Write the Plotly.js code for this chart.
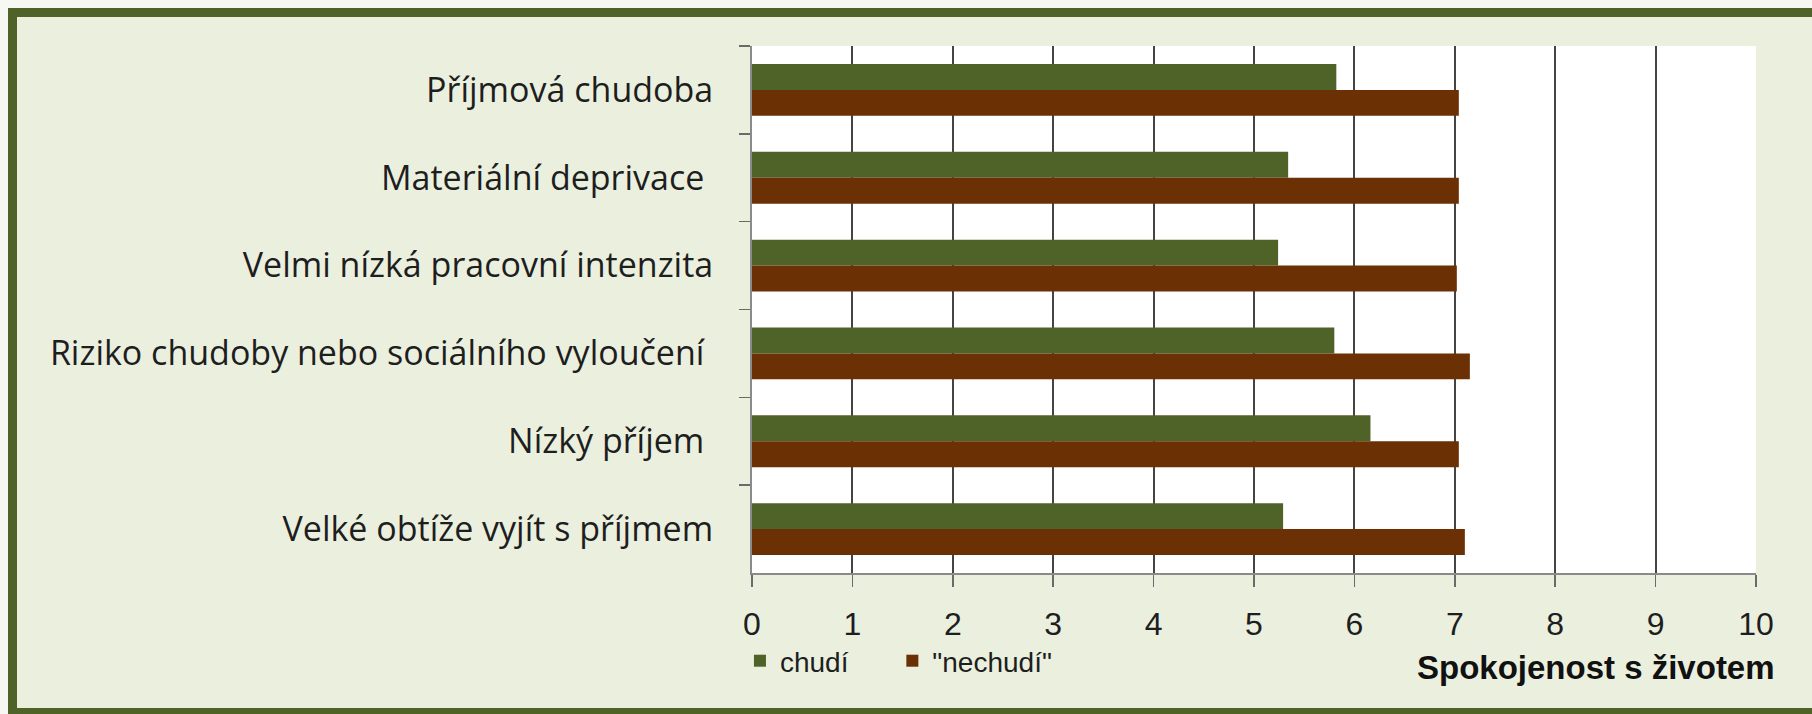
<!DOCTYPE html>
<html>
<head>
<meta charset="utf-8">
<script src="https://cdn.plot.ly/plotly-3.0.1.min.js"></script>
<style>
  html, body { margin: 0; padding: 0; background: #f7f8f3; overflow: hidden; }
  #frame {
    position: absolute; left: 8px; top: 8px; width: 1830px; height: 709px;
    box-sizing: border-box; border: 9px solid #4f6228; background: #ebf0de;
  }
  #chart { position: absolute; left: 0; top: 0; width: 1812px; height: 714px; }
</style>
</head>
<body>
<div id="frame"></div>
<div id="chart"></div>
<script>
// kategorie (shora dolů)
const categories = [
    'Příjmová chudoba',
    'Materiální deprivace ',
    'Velmi nízká pracovní intenzita',
    'Riziko chudoby nebo sociálního vyloučení ',
    'Nízký příjem ',
    'Velké obtíže vyjít s příjmem'
];
// spokojenost s životem
const chudi = [5.82, 5.34, 5.24, 5.80, 6.16, 5.29];
const nechudi = [7.04, 7.04, 7.02, 7.15, 7.04, 7.10];
const xTicks = [0, 1, 2, 3, 4, 5, 6, 7, 8, 9, 10];

const labelFont = '"Open Sans", "Liberation Sans", sans-serif';
const numFont = '"Liberation Sans", sans-serif';

// nbsp za názvem jen odsouvá druhou položku legendy
const traceChudi = {
    type: 'bar',
    orientation: 'h',
    name: 'chudí\u00a0\u00a0\u00a0\u00a0\u00a0',
    y: categories,
    x: chudi,
    marker: { color: '#4f6228' },
    hoverinfo: 'x'
};

const traceNechudi = {
    type: 'bar',
    orientation: 'h',
    name: '"nechudí"',
    y: categories,
    x: nechudi,
    marker: { color: '#6b3004' },
    hoverinfo: 'x'
};

const layout = {
    width: 1812,
    height: 714,
    margin: { l: 752, r: 56, t: 46, b: 141 },
    paper_bgcolor: 'rgba(0,0,0,0)',
    plot_bgcolor: '#ffffff',
    barmode: 'group',
    bargap: 0.41,
    bargroupgap: 0,
    font: { family: labelFont, color: '#1e1e1e', size: 26 },
    xaxis: {
        range: [0, 10],
        tickvals: xTicks,
        ticktext: xTicks.map(String),
        showgrid: true,
        gridcolor: '#444444',
        gridwidth: 2,
        zeroline: false,
        showline: true,
        linecolor: '#8a8a8a',
        linewidth: 2,
        ticks: 'outside',
        ticklen: 12,
        tickcolor: '#6a6a6a',
        tickwidth: 1.5,
        ticklabelstandoff: 10,
        tickfont: { family: numFont, size: 32, color: '#1e1e1e' }
    },
    yaxis: {
        type: 'category',
        autorange: 'reversed',
        showgrid: false,
        showline: true,
        linecolor: '#8a8a8a',
        linewidth: 2,
        ticks: 'outside',
        tickson: 'boundaries',
        ticklen: 11,
        tickcolor: '#6a6a6a',
        tickwidth: 1.5,
        ticklabelstandoff: 30,
        tickfont: { family: labelFont, size: 34, color: '#1e1e1e' }
    },
    showlegend: true,
    legend: {
        orientation: 'h',
        x: -0.012,
        xanchor: 'left',
        y: -0.167,
        yanchor: 'middle',
        bgcolor: 'rgba(0,0,0,0)',
        font: { family: numFont, size: 28, color: '#1e1e1e' },
        itemwidth: 30,
        traceorder: 'normal'
    },
    annotations: [{
        text: '<b>Spokojenost s životem</b>',
        xref: 'paper',
        yref: 'paper',
        x: 1.0209,
        y: -0.18,
        xanchor: 'right',
        yanchor: 'middle',
        showarrow: false,
        font: { family: '"Liberation Sans", sans-serif', size: 33, color: '#111111' }
    }]
};

Plotly.newPlot('chart', [traceChudi, traceNechudi], layout, {
    displayModeBar: false,
    staticPlot: true
});
</script>
</body>
</html>
